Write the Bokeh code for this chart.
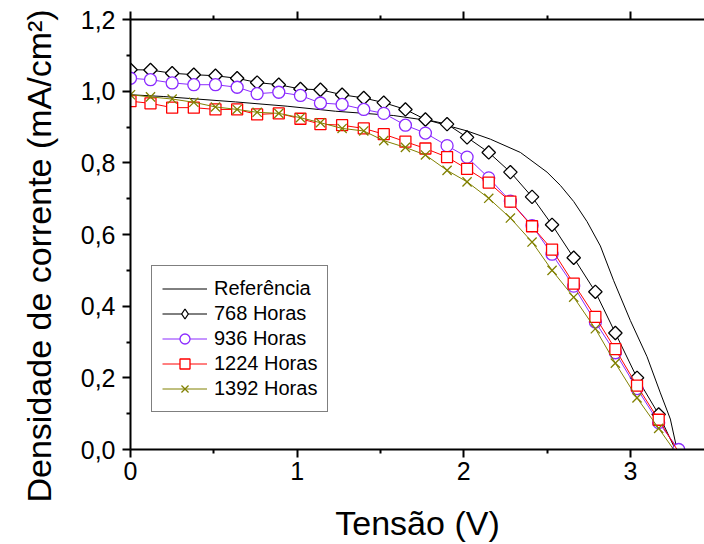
import numpy as np
from bokeh.plotting import figure
from bokeh.models import Range1d, LinearAxis, FixedTicker, Legend, LegendItem, Title
from bokeh.embed import file_html
from bokeh.resources import INLINE

# ---- data ----
# voltage of the marker points shared by the aged series (V)
V_markers = [0.00, 0.12, 0.25, 0.38, 0.51, 0.64, 0.76, 0.89, 1.02, 1.14, 1.27,
             1.40, 1.52, 1.65, 1.77, 1.90, 2.02, 2.15, 2.28, 2.41, 2.53, 2.66,
             2.79, 2.91, 3.04, 3.17]

V_ref = [0.00, 0.20, 0.40, 0.63, 0.94, 1.23, 1.58, 1.80, 2.02, 2.16, 2.34, 2.50,
         2.58, 2.66, 2.74, 2.82, 2.90, 3.00, 3.10, 3.18, 3.24, 3.28]
J_ref = [0.990, 0.985, 0.978, 0.970, 0.958, 0.944, 0.932, 0.917, 0.889, 0.866, 0.829,
         0.774, 0.737, 0.692, 0.636, 0.568, 0.471, 0.360, 0.259, 0.158, 0.085, 0.000]

J_768 = [1.060, 1.059, 1.050, 1.046, 1.043, 1.036, 1.024, 1.018, 1.006, 1.004, 0.990,
         0.981, 0.968, 0.949, 0.921, 0.908, 0.871, 0.829, 0.774, 0.705, 0.627, 0.535,
         0.440, 0.325, 0.200, 0.098]
J_936 = [1.036, 1.032, 1.023, 1.018, 1.018, 1.011, 0.993, 0.997, 0.988, 0.967, 0.963,
         0.949, 0.938, 0.905, 0.883, 0.848, 0.816, 0.758, 0.693, 0.625, 0.545, 0.456,
         0.356, 0.270, 0.170, 0.075]
J_1224 = [0.972, 0.966, 0.954, 0.954, 0.949, 0.949, 0.935, 0.938, 0.923, 0.908, 0.905,
          0.896, 0.880, 0.859, 0.840, 0.816, 0.783, 0.745, 0.692, 0.623, 0.558, 0.463,
          0.370, 0.280, 0.178, 0.083]
J_1392 = [0.990, 0.984, 0.978, 0.969, 0.956, 0.949, 0.941, 0.938, 0.926, 0.912, 0.896,
          0.889, 0.862, 0.843, 0.822, 0.779, 0.747, 0.701, 0.646, 0.579, 0.500, 0.425,
          0.337, 0.241, 0.144, 0.059]

# open-circuit voltage (where each curve reaches J = 0)
Voc = {"768": 3.27, "936": 3.29, "1224": 3.28, "1392": 3.26}

labels = ["Referência", "768 Horas", "936 Horas", "1224 Horas", "1392 Horas"]
x_title = "Tensão (V)"
y_title = "Densidade de corrente (mA/cm²)"
x_ticks = [0, 1, 2, 3]
x_minor = [0.5, 1.5, 2.5, 3.5]
y_ticks = [0.0, 0.2, 0.4, 0.6, 0.8, 1.0, 1.2]
y_minor = [0.1, 0.3, 0.5, 0.7, 0.9, 1.1]
y_tick_labels = ["0,0", "0,2", "0,4", "0,6", "0,8", "1,0", "1,2"]

FONT = "Liberation Sans"

p = figure(width=704, height=544, output_backend="svg", toolbar_location=None,
           x_range=Range1d(0, 3.445), y_range=Range1d(0, 1.2),
           min_border_left=130, min_border_right=0, min_border_top=19,
           min_border_bottom=90)
p.outline_line_color = None
p.grid.visible = False
p.background_fill_color = "white"
p.border_fill_color = "white"


def style_axis(ax, ticks, minor):
    ax.ticker = FixedTicker(ticks=ticks, minor_ticks=minor)
    ax.axis_line_width = 2
    ax.axis_line_color = "black"
    ax.major_tick_line_width = 2
    ax.major_tick_line_color = "black"
    ax.minor_tick_line_width = 2
    ax.minor_tick_line_color = "black"
    ax.major_tick_out = 8
    ax.major_tick_in = 0
    ax.minor_tick_out = 4
    ax.minor_tick_in = 0
    ax.major_label_text_font = FONT
    ax.major_label_text_font_size = "25px"
    ax.major_label_text_color = "black"
    ax.axis_label_text_font = FONT
    ax.axis_label_text_font_size = "34px"
    ax.axis_label_text_font_style = "normal"
    ax.axis_label_text_color = "black"


xa = p.xaxis[0]
style_axis(xa, x_ticks, x_minor)
xa.major_label_standoff = 4
xa.axis_label = x_title
xa.axis_label_standoff = 21

ya = p.yaxis[0]
style_axis(ya, y_ticks, y_minor)
ya.major_label_overrides = {t: s for t, s in zip(y_ticks, y_tick_labels)}
ya.major_label_standoff = 7

# y title as a side title: sits a little below the frame centre and, with a
# wide standoff and top alignment, toward the left edge as in the original
p.add_layout(Title(text=y_title, align="left", vertical_align="top",
                   offset=-53, standoff=36, text_font=FONT,
                   text_font_size="34px", text_font_style="normal",
                   text_color="black"), "left")

top = LinearAxis()
style_axis(top, x_ticks, x_minor)
top.major_label_overrides = {t: "" for t in x_ticks}
top.major_label_standoff = 0
p.add_layout(top, "above")

# ---- series ----
r_ref = p.line(V_ref, J_ref, line_color="black", line_width=1)


def series(J, voc, color, marker, size, angle=0.0, end_marker=False, key=None):
    xs = V_markers + [voc]
    ys = J + [0.0]
    ln = p.line(xs, ys, line_color=color, line_width=1)
    mx = xs if end_marker else V_markers
    my = ys if end_marker else J
    key_r = None
    if key is not None:
        # legend key glyph, hidden under the real markers
        key_r = p.scatter(mx, my, marker=key, size=size, line_color=color,
                          fill_color="white", line_width=1.3)
    sc = p.scatter(mx, my, marker=marker, size=size, angle=angle,
                   line_color=color, fill_color="white", line_width=1.3)
    return [ln, key_r if key_r is not None else sc]


r768 = series(J_768, Voc["768"], "black", "square", 9.5, angle=np.pi / 4,
              key="diamond")
r936 = series(J_936, Voc["936"], "#8B2BFF", "circle", 12, end_marker=True)
r1224 = series(J_1224, Voc["1224"], "#FF0000", "square", 11)
r1392 = series(J_1392, Voc["1392"], "#808000", "x", 13)

legend = Legend(items=[
    LegendItem(label=labels[0], renderers=[r_ref]),
    LegendItem(label=labels[1], renderers=r768),
    LegendItem(label=labels[2], renderers=r936),
    LegendItem(label=labels[3], renderers=r1224),
    LegendItem(label=labels[4], renderers=r1392),
], location=(21, 37))
legend.border_line_color = "black"
legend.border_line_width = 1
legend.background_fill_color = "white"
legend.background_fill_alpha = 1
legend.label_text_font = FONT
legend.label_text_font_size = "20px"
legend.label_text_color = "black"
legend.glyph_width = 45
legend.glyph_height = 25
legend.label_height = 25
legend.spacing = 0
legend.padding = 10
legend.margin = 0
legend.label_standoff = 7
p.add_layout(legend)

open("out.html", "w").write(file_html(p, INLINE))
